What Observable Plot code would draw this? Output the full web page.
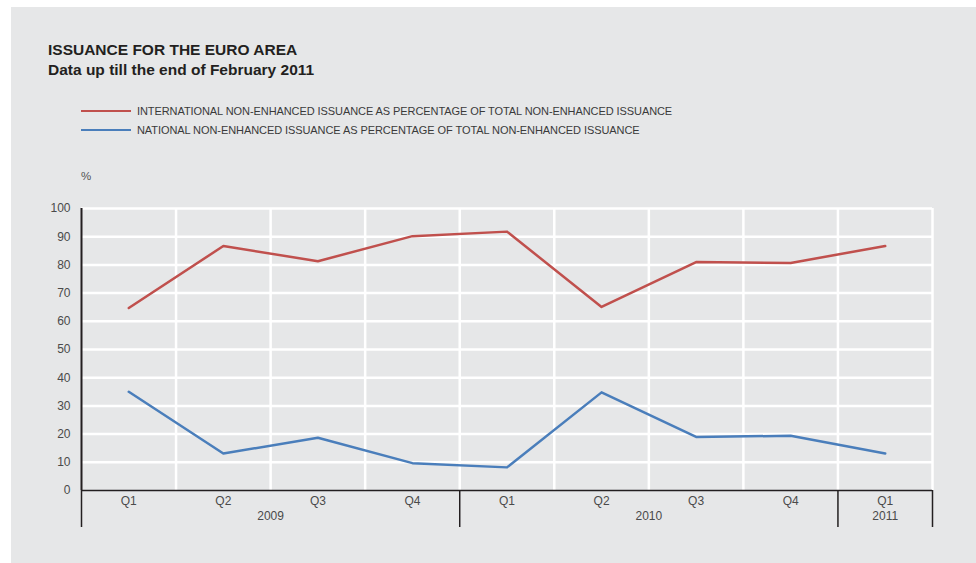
<!DOCTYPE html>
<html>
<head>
<meta charset="utf-8">
<script src="https://cdn.jsdelivr.net/npm/d3@7"></script>
<script src="https://cdn.jsdelivr.net/npm/@observablehq/plot@0.6"></script>
<style>
  html, body { margin: 0; padding: 0; background: #ffffff; }
  body { width: 976px; height: 563px; position: relative; overflow: hidden;
         font-family: "Liberation Sans", Arial, Helvetica, sans-serif; }
  #panel { position: absolute; left: 11px; top: 7px; right: 0; bottom: 0; background: #e6e7e8; }
  .title { position: absolute; left: 48px; font-size: 15.5px; font-weight: bold; color: #231f20; white-space: nowrap; }
  .legend-row { position: absolute; left: 81px; height: 14px; display: flex; align-items: center; white-space: nowrap; }
  .legend-row .sw { width: 50px; height: 2px; margin-right: 6px; }
  .legend-row .lb { font-size: 11px; color: #3a3a3a; letter-spacing: -0.08px; }
  .unit { position: absolute; left: 81px; top: 170px; font-size: 11.5px; color: #555; }
  #chart { position: absolute; left: 0; top: 0; }
</style>
</head>
<body>
<div id="panel"></div>
<div class="title" style="top:41px">ISSUANCE FOR THE EURO AREA</div>
<div class="title" style="top:61px">Data up till the end of February 2011</div>
<div id="legend"></div>
<div class="unit">%</div>
<div id="chart"></div>
<script>
// ---- data ----
const quarters = ["Q1", "Q2", "Q3", "Q4", "Q1", "Q2", "Q3", "Q4", "Q1"];
const years    = ["2009", "2009", "2009", "2009", "2010", "2010", "2010", "2010", "2011"];
const international = [64.7, 86.7, 81.3, 90.2, 91.8, 65.1, 81.0, 80.7, 86.7];
const national      = [35.0, 13.1, 18.7, 9.7, 8.2, 34.8, 19.0, 19.4, 13.1];
const seriesNames = [
  "INTERNATIONAL NON-ENHANCED ISSUANCE AS PERCENTAGE OF TOTAL NON-ENHANCED ISSUANCE",
  "NATIONAL NON-ENHANCED ISSUANCE AS PERCENTAGE OF TOTAL NON-ENHANCED ISSUANCE"
];
const seriesColors = ["#c0504d", "#4a7ebb"];
const yTicks = [0, 10, 20, 30, 40, 50, 60, 70, 80, 90, 100];

// ---- derived tables ----
const idx = quarters.map((_, i) => i);
const rows = [];
[international, national].forEach((vals, s) =>
  vals.forEach((v, i) => rows.push({i, value: v, series: seriesNames[s]})));

// year groups: centre and boundaries
const yearList = [...new Set(years)];
const yearCenters = yearList.map(y => {
  const ii = idx.filter(i => years[i] === y);
  return {year: y, x: d3.mean(ii)};
});
const dividers = [-0.5, ...yearList.map(y => d3.max(idx.filter(i => years[i] === y)) + 0.5)];
const gridX = idx.map(i => i + 0.5);

// ---- legend ----
const legend = document.getElementById("legend");
seriesNames.forEach((name, s) => {
  const row = document.createElement("div");
  row.className = "legend-row";
  row.style.top = (104 + s * 18.5) + "px";
  row.innerHTML = `<div class="sw" style="background:${seriesColors[s]}"></div><div class="lb">${name}</div>`;
  legend.appendChild(row);
});

// ---- chart ----
const chart = Plot.plot({
  width: 976,
  height: 563,
  marginLeft: 81,
  marginRight: 44,
  marginTop: 208,
  marginBottom: 73,
  style: {background: "transparent", overflow: "visible", fontFamily: "'Liberation Sans', Arial, sans-serif"},
  x: {type: "linear", domain: [-0.5, quarters.length - 0.5], axis: null},
  y: {domain: [0, 100], axis: null},
  color: {domain: seriesNames, range: seriesColors},
  marks: [
    Plot.ruleY(yTicks.filter(v => v > 0), {x1: -0.5, x2: quarters.length - 0.5, stroke: "#ffffff", strokeWidth: 2.5}),
    Plot.ruleX(gridX, {y1: 0, y2: 100, stroke: "#ffffff", strokeWidth: 2.5}),
    Plot.line(rows, {x: "i", y: "value", z: "series", stroke: "series", strokeWidth: 2.5}),
    Plot.ruleY([0], {stroke: "#231f20", strokeWidth: 1.5}),
    Plot.ruleX([-0.5], {y1: 0, y2: 100, stroke: "#231f20", strokeWidth: 2}),
    Plot.axisX({ticks: dividers, tickSize: 37, tickFormat: () => "", label: null, stroke: "#231f20", strokeWidth: 1.5, strokeOpacity: 1}),
    Plot.axisX({ticks: idx, tickSize: 0, tickPadding: 6, tickFormat: i => quarters[i], label: null, fontSize: 12, fill: "#4a4a4a"}),
    Plot.text(yearCenters, {x: "x", text: "year", frameAnchor: "bottom", dy: 29, fontSize: 12, fill: "#4a4a4a"}),
    Plot.axisY({ticks: yTicks, tickSize: 0, tickPadding: 11, tickFormat: d => String(d), label: null, fontSize: 12, fill: "#4a4a4a"})
  ]
});
document.getElementById("chart").appendChild(chart);
</script>
</body>
</html>
